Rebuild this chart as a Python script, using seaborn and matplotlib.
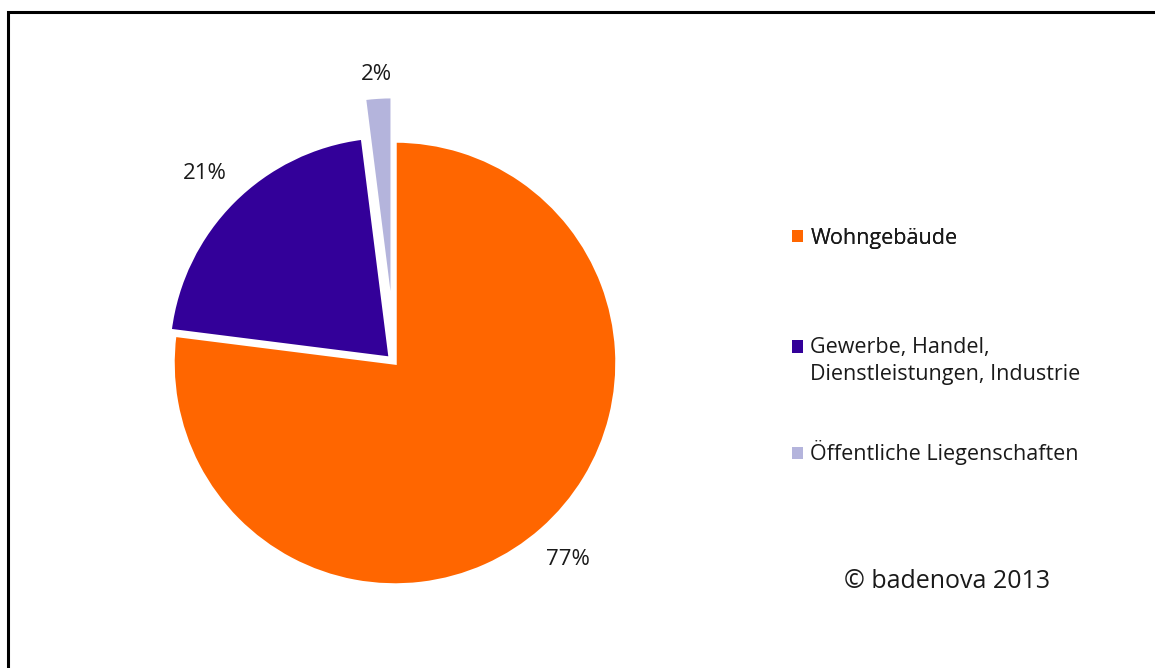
import numpy as np
import matplotlib
matplotlib.use("Agg")
import matplotlib.pyplot as plt
import matplotlib.patches as mpatches
from matplotlib.legend_handler import HandlerPatch
import seaborn as sns

# data
categories = ["Wohngebäude",
              "Gewerbe, Handel,\nDienstleistungen, Industrie",
              "Öffentliche Liegenschaften"]
shares = [77, 21, 2]
explode = [0.0, 0.03, 0.2]
palette = ["#FF6600", "#330099", "#B4B4DC"]
label_dist = [1.18, 1.18, 1.1]

sns.set_theme(style="white")
plt.rcParams['font.family'] = ['Open Sans', 'DejaVu Sans']
sns.set_palette(palette)

fig = plt.figure(figsize=(11.55, 6.68), dpi=100)
W, H = 1155, 668

# pie axes: centre ~(395, 363) px, radius ~222 px
cx, cy, r_px, lim = 395, 363, 222, 1.4
half = r_px * lim
ax = fig.add_axes([(cx - half) / W, (H - cy - half) / H, 2 * half / W, 2 * half / H])

wedges, _ = ax.pie(shares, colors=sns.color_palette(), explode=explode,
                   startangle=90, counterclock=False, radius=1,
                   wedgeprops=dict(edgecolor='white', linewidth=2.5))
ax.set_xlim(-lim, lim)
ax.set_ylim(-lim, lim)
ax.set_aspect('equal')
ax.axis('off')

# percentage labels placed outside each wedge
for w, v, d in zip(wedges, shares, label_dist):
    th = np.deg2rad((w.theta1 + w.theta2) / 2)
    x0, y0 = w.center
    ax.text(x0 + d * np.cos(th), y0 + d * np.sin(th), f"{v}%",
            ha='center', va='center', fontsize=16, color='#1a1a1a')

LINESP = 1.35


def top_square(legend, orig_handle, xdescent, ydescent, width, height, fontsize):
    # align square with the first text line of a two-line label
    n = orig_handle.get_label().count("\n")
    dy = n * fontsize * LINESP / 2
    return mpatches.Rectangle((-xdescent, -ydescent + dy), width, height)


handles = [mpatches.Patch(facecolor=c, edgecolor='none', label=l)
           for c, l in zip(palette, categories)]
leg_kw = dict(loc='upper left', frameon=False, fontsize=15.5,
              handlelength=0.5, handleheight=0.5, handletextpad=0.35,
              borderpad=0, borderaxespad=0,
              handler_map={mpatches.Patch: HandlerPatch(patch_func=top_square)},
              labelcolor='#1a1a1a')

leg1 = fig.legend(handles[:1], categories[:1],
                  bbox_to_anchor=(792 / W, 1 - 228 / H), **leg_kw)
leg2 = fig.legend(handles[1:], categories[1:],
                  bbox_to_anchor=(792 / W, 1 - 337 / H), labelspacing=2.59,
                  **leg_kw)
for t in leg2.get_texts():
    t.set_linespacing(LINESP)
fig.add_artist(leg1)

fig.text(947 / W, 1 - 582 / H, "© badenova 2013", ha='center', va='center',
         fontsize=18, color='#1a1a1a')

# outer frame (runs off the right and bottom edge)
fig.patches.append(mpatches.Rectangle((8 / W, -0.1), 1.2, 1 - 12.5 / H + 0.1,
                                      transform=fig.transFigure, fill=False,
                                      edgecolor='black', linewidth=2.2))

fig.savefig("out.png", dpi=100)
